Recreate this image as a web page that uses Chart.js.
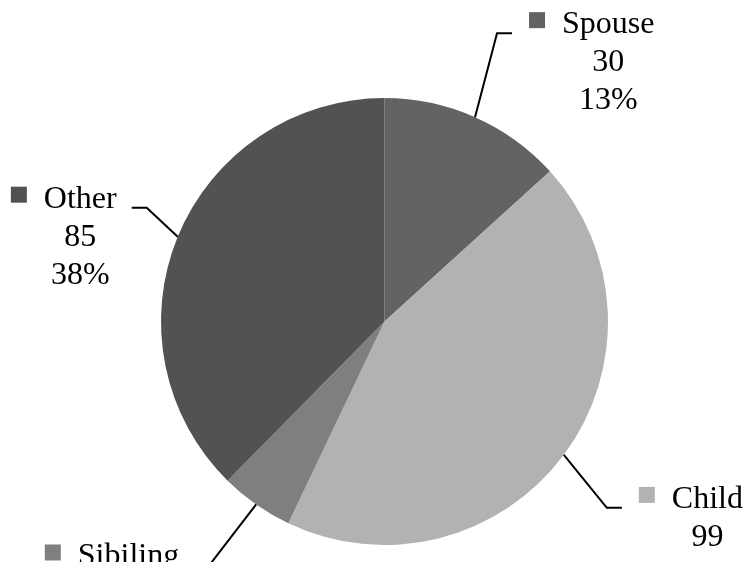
<!DOCTYPE html>
<html>
<head>
<meta charset="utf-8">
<script src="https://cdn.jsdelivr.net/npm/chart.js@4/dist/chart.umd.min.js"></script>
<style>
html,body{margin:0;padding:0;background:#fff;}
canvas{display:block;}
</style>
</head>
<body>
<canvas id="c" width="750" height="562"></canvas>
<script>
const categories = ["Spouse", "Child", "Sibiling", "Other"];
const values = [30, 99, 12, 85];
const colors = ["#636363", "#b2b2b2", "#7f7f7f", "#525252"];

// callout layout: elbow offset from slice edge midpoint, horizontal direction
const calloutLayout = [
  {dx: 22, dy: -84, dir: 1},
  {dx: 43, dy: 53, dir: 1},
  {dx: -47, dy: 61, dir: -1},
  {dx: -31, dy: -29, dir: -1}
];

const FONT = '32px "Liberation Serif", "Times New Roman", serif';
const LINE_H = 38;

const calloutPlugin = {
  id: 'callouts',
  afterDatasetsDraw(chart) {
    const ctx = chart.ctx;
    const meta = chart.getDatasetMeta(0);
    const data = chart.data.datasets[0].data;
    const total = data.reduce((a, b) => a + b, 0);
    ctx.save();
    ctx.font = FONT;
    ctx.textBaseline = 'alphabetic';
    meta.data.forEach((arc, i) => {
      const p = arc.getProps(['x', 'y', 'startAngle', 'endAngle', 'outerRadius'], true);
      const mid = (p.startAngle + p.endAngle) / 2;
      const ex = p.x + Math.cos(mid) * p.outerRadius;
      const ey = p.y + Math.sin(mid) * p.outerRadius;
      const L = calloutLayout[i];
      const bx = ex + L.dx, by = ey + L.dy;
      const hx = bx + 15 * L.dir;
      ctx.strokeStyle = '#000';
      ctx.lineWidth = 2;
      ctx.beginPath();
      ctx.moveTo(ex, ey);
      ctx.lineTo(bx, by);
      ctx.lineTo(hx, by);
      ctx.stroke();

      const name = chart.data.labels[i];
      const nameW = ctx.measureText(name).width;
      const marker = 16, gapM = 17;
      let markerX, textLeft;
      if (L.dir > 0) {
        markerX = hx + 17;
        textLeft = markerX + marker + gapM;
      } else {
        textLeft = hx - 15 - nameW;
        markerX = textLeft - gapM - marker;
      }
      const cx = textLeft + nameW / 2;
      ctx.fillStyle = colors[i];
      ctx.fillRect(markerX, by - 21, marker, marker);
      ctx.fillStyle = '#000';
      ctx.textAlign = 'left';
      ctx.fillText(name, textLeft, by);
      ctx.textAlign = 'center';
      ctx.fillText(String(data[i]), cx, by + LINE_H);
      ctx.fillText(Math.round(data[i] / total * 100) + '%', cx, by + 2 * LINE_H);
    });
    ctx.restore();
  }
};

new Chart(document.getElementById('c'), {
  type: 'pie',
  data: {
    labels: categories,
    datasets: [{
      data: values,
      backgroundColor: colors,
      borderWidth: 0,
      hoverOffset: 0
    }]
  },
  options: {
    responsive: false,
    animation: false,
    events: [],
    layout: {padding: {left: 161, right: 142, top: 98, bottom: 17}},
    plugins: {
      legend: {display: false},
      tooltip: {enabled: false}
    }
  },
  plugins: [calloutPlugin]
});
</script>
</body>
</html>
